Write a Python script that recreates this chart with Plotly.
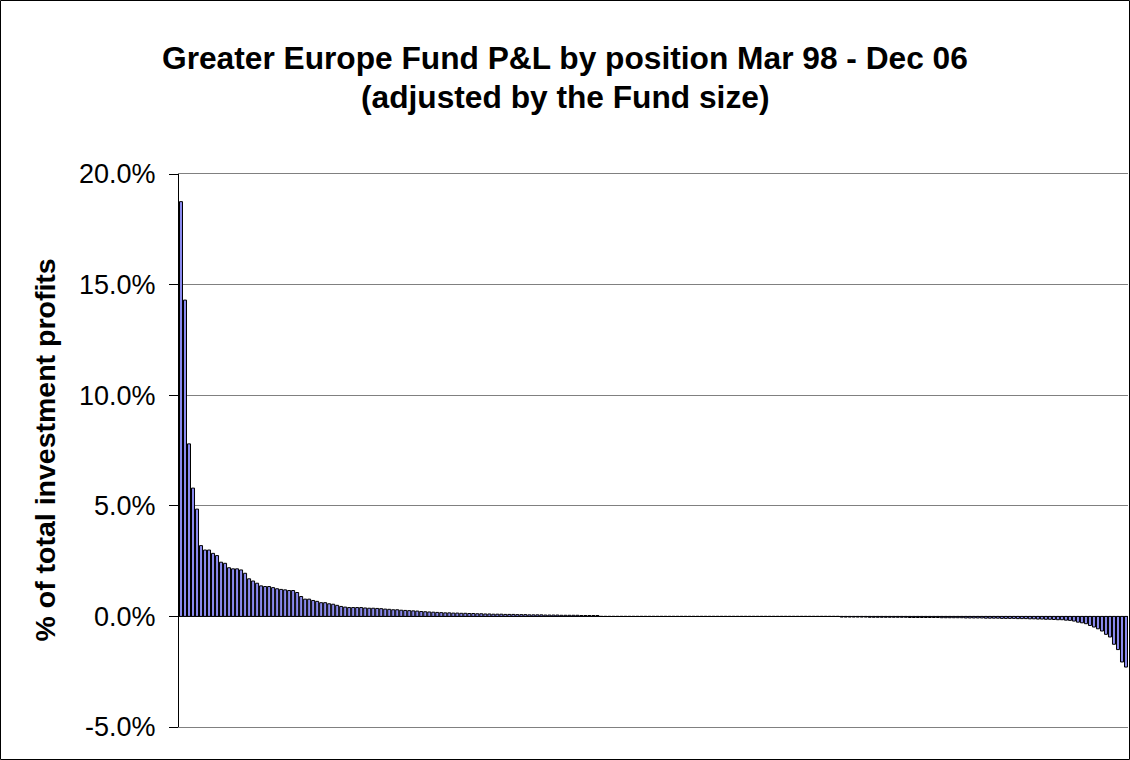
import plotly.graph_objects as go

# Positions with a profit, largest first (% of total investment profits)
gains = [
    18.75, 14.3, 7.8, 5.8, 4.85,
    3.2, 3.0, 3.0, 2.85, 2.75, 2.45, 2.4, 2.2, 2.15, 2.15, 2.1, 1.95, 1.7, 1.6, 1.5, 1.38, 1.35, 1.35, 1.3, 1.25,
    1.22, 1.2, 1.17, 1.17, 1.08, 0.9, 0.78, 0.78, 0.72, 0.68, 0.62, 0.62, 0.57, 0.55, 0.5, 0.45, 0.42, 0.4, 0.4, 0.4,
    0.4, 0.38, 0.37, 0.37, 0.36, 0.35, 0.33, 0.32, 0.3, 0.3, 0.28, 0.27, 0.26, 0.25, 0.24, 0.22, 0.21, 0.2, 0.19, 0.18,
    0.17, 0.16, 0.16, 0.15, 0.15, 0.14, 0.14, 0.13, 0.13, 0.12, 0.12, 0.11, 0.11, 0.10, 0.10, 0.10, 0.09, 0.09, 0.09, 0.08,
    0.08, 0.08, 0.07, 0.07, 0.07, 0.07, 0.06, 0.06, 0.06, 0.06, 0.05, 0.05, 0.05, 0.05, 0.05, 0.04, 0.04, 0.04, 0.04, 0.04,
]

# Positions that ended roughly flat
flat = [0.0] * 60

# Positions with a loss, smallest first
losses = [
    -0.03, -0.03, -0.03, -0.03, -0.03, -0.03, -0.03, -0.04, -0.04, -0.04, -0.04, -0.04,
    -0.04, -0.04, -0.04, -0.04, -0.04, -0.05, -0.05, -0.05, -0.05, -0.05, -0.05, -0.05,
    -0.05, -0.06, -0.06, -0.06, -0.06, -0.06, -0.06, -0.07, -0.07, -0.07, -0.07, -0.07,
    -0.08, -0.08, -0.08, -0.08, -0.09, -0.09, -0.09, -0.09, -0.10, -0.10, -0.10, -0.11,
    -0.11, -0.12, -0.12, -0.13, -0.13, -0.14, -0.15, -0.15, -0.17,
    -0.18, -0.21, -0.26, -0.29, -0.33, -0.41, -0.48, -0.56, -0.66, -0.81, -0.93, -1.26, -1.50, -2.06, -2.29,
]

y_ticks = [-5.0, 0.0, 5.0, 10.0, 15.0, 20.0]

values = gains + flat + losses
positions = list(range(1, len(values) + 1))

FONT = "Arial, Liberation Sans, sans-serif"
W, H = 1130, 760
L, R, T, B = 179, 2, 174, 33
pw, ph = W - L - R, H - T - B

fig = go.Figure()
fig.add_trace(go.Bar(
    x=positions, y=values,
    marker=dict(color="#8A8AEE", line=dict(color="black", width=1)),
))

fig.update_layout(
    width=W, height=H,
    margin=dict(l=L, r=R, t=T, b=B),
    paper_bgcolor="white", plot_bgcolor="white",
    showlegend=False, bargap=0.25,
    font=dict(family=FONT, color="black"),
)
# x axis line + mirror give the gridlines at the top (20%) and bottom (-5%)
fig.update_xaxes(
    type="category", showticklabels=False, ticks="", showgrid=False,
    zeroline=False, showline=True, mirror=True, linecolor="#808080", linewidth=1,
)
fig.update_yaxes(
    range=[y_ticks[0], y_ticks[-1]],
    tickvals=y_ticks, ticktext=[f"{t:.1f}%" for t in y_ticks],
    tickfont=dict(size=27, family=FONT),
    showgrid=True, gridcolor="#808080", gridwidth=1,
    zeroline=True, zerolinecolor="black", zerolinewidth=1,
    showline=True, linecolor="black", linewidth=1,
    ticks="outside", ticklen=9, tickcolor="black", ticklabelstandoff=8,
)

fig.add_annotation(
    text="<b>Greater Europe Fund P&L by position Mar 98 - Dec 06</b>",
    xref="paper", yref="paper", x=(565 - L) / pw, y=1 + (T - 58) / ph,
    showarrow=False, font=dict(size=31.7, family=FONT), xanchor="center", yanchor="middle",
)
fig.add_annotation(
    text="<b>(adjusted by the Fund size)</b>",
    xref="paper", yref="paper", x=(565 - L) / pw, y=1 + (T - 97) / ph,
    showarrow=False, font=dict(size=31.7, family=FONT), xanchor="center", yanchor="middle",
)
fig.add_annotation(
    text="<b>% of total investment profits</b>",
    xref="paper", yref="paper", x=(44 - L) / pw, y=0.5,
    textangle=-90, showarrow=False, font=dict(size=28.5, family=FONT),
    xanchor="center", yanchor="middle",
)

# outer chart border
fig.add_shape(
    type="rect", xref="paper", yref="paper",
    x0=(0.5 - L) / pw, x1=(W - 0.5 - L) / pw,
    y0=-(B - 0.5) / ph, y1=1 + (T - 0.5) / ph,
    line=dict(color="black", width=1), layer="above",
)

fig.write_html(
    "out.html",
    config={"displayModeBar": False},
    post_script="document.body.style.margin='0';",
)
